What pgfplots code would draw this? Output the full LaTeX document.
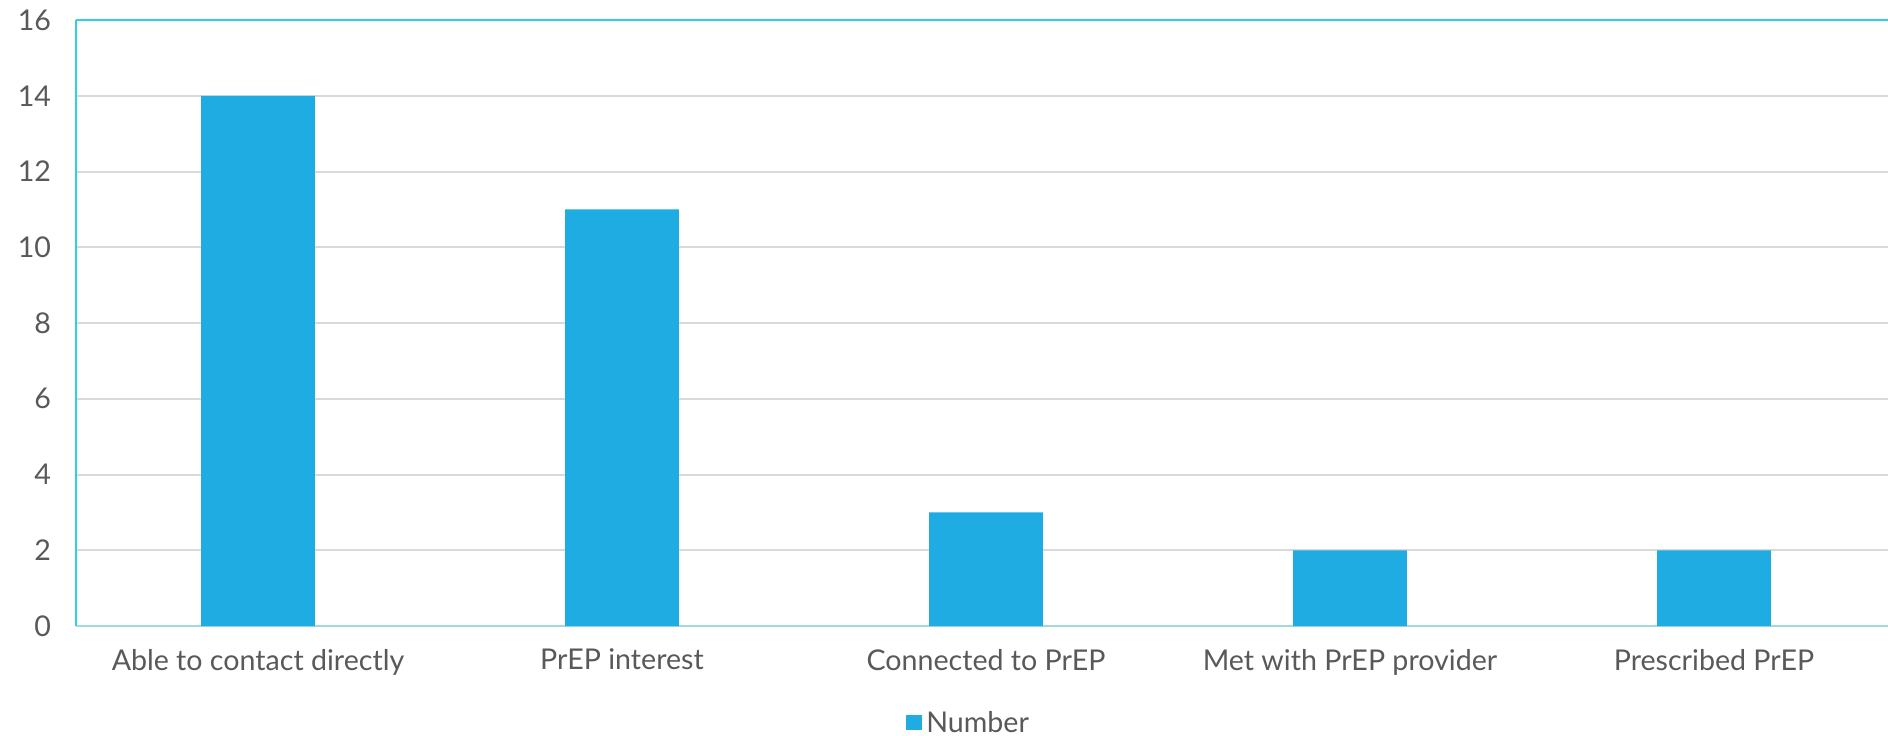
\documentclass[border=0pt]{standalone}
\usepackage{fontspec}
\setmainfont{Lato}
\usepackage{pgfplots}
\pgfplotsset{compat=1.18}
\usetikzlibrary{calc}
\definecolor{barblue}{HTML}{1EACE2}
\definecolor{frame}{HTML}{2ED2DE}
\definecolor{baseaxis}{HTML}{A3DADC}
\definecolor{gridgray}{HTML}{D9D9D9}
\definecolor{labelgray}{HTML}{595959}

\begin{document}
\begin{tikzpicture}
  \begin{axis}[
    scale only axis,
    width=910pt, height=303pt,
    xmin=-0.5, xmax=4.5,
    ymin=0, ymax=16,
    ytick={0,2,...,16},
    xtick=data,
    xticklabels={Able to contact directly, PrEP interest, Connected to PrEP,
                 Met with PrEP provider, Prescribed PrEP},
    axis x line*=bottom,
    axis y line*=left,
    x axis line style={baseaxis, line width=1pt, -},
    y axis line style={frame, line width=1pt, -},
    major tick length=0pt,
    ymajorgrids,
    grid style={gridgray, line width=1pt},
    tick label style={font=\fontsize{14.3}{16}\selectfont, text=labelgray},
    /pgf/number format/assume math mode=true,
    xticklabel style={yshift=-8pt},
    yticklabel style={xshift=-9pt},
    legend style={at={(0.491,-0.16)}, anchor=center, draw=none,
                  font=\fontsize{14.3}{16}\selectfont, text=labelgray,
                  inner sep=0pt},
    legend cell align=left,
    legend image code/.code={\fill[#1,draw=none] (0pt,-3.75pt) rectangle (8pt,3.75pt);},
    after end axis/.code={
      \draw[frame, line width=1pt] (rel axis cs:0,1) -- (rel axis cs:1,1);
      \coordinate (o) at (rel axis cs:0,0);
    },
  ]
    \addplot[ybar, bar width=0.313, fill=barblue, draw=none]
      coordinates {(0,14) (1,11) (2,3) (3,2) (4,2)};
    \addlegendentry{Number}
  \end{axis}
  \pgfresetboundingbox
  \path[use as bounding box] ($(o)+(-38pt,-54.5pt)$) rectangle ($(o)+(906pt,313pt)$);
\end{tikzpicture}
\end{document}
